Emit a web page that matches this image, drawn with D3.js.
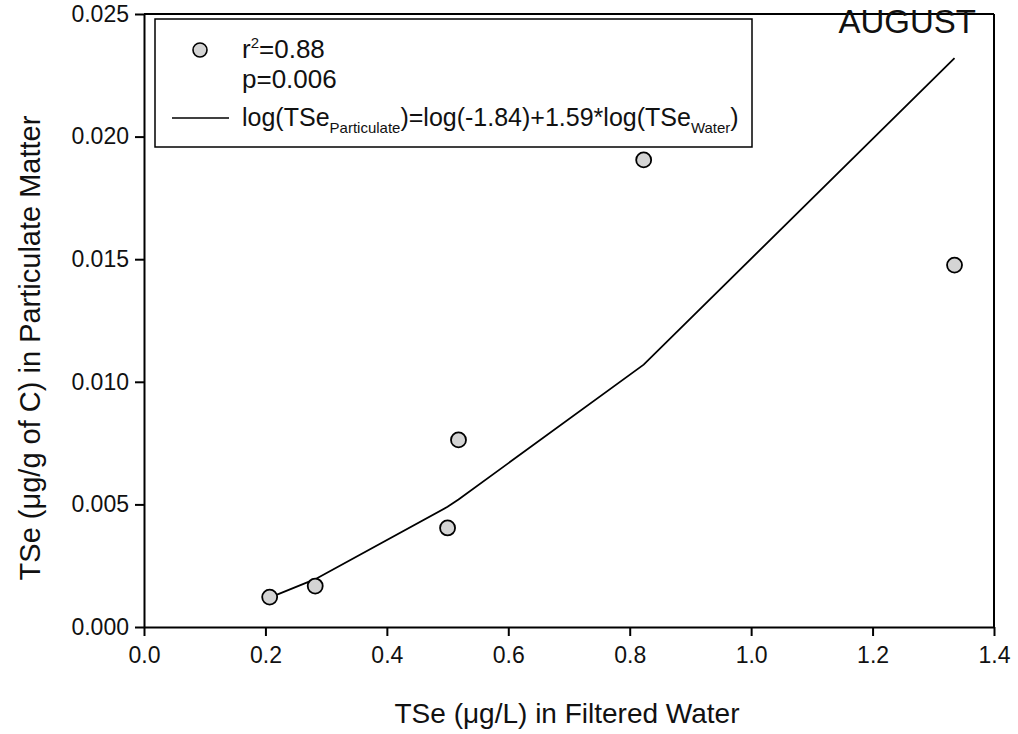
<!DOCTYPE html>
<html lang="en">
<head>
<meta charset="utf-8">
<title>TSe August</title>
<script src="https://d3js.org/d3.v7.min.js"></script>
<style>
  body { margin: 0; background: #fff; }
  text { font-family: "Liberation Sans", Arial, sans-serif; fill: #111; }
  .axis path, .axis line { stroke: #000; stroke-width: 2px; }
  .axis text { font-size: 23px; }
</style>
</head>
<body>
<div id="chart"></div>
<script>
    // data
    var waterTSe = [0.207, 0.282, 0.500, 0.518, 0.823, 1.335];
    var particulateTSe = [0.00122, 0.00167, 0.00404, 0.00763, 0.01905, 0.01476];
    var fitTSe = [0.00120, 0.00195, 0.00490, 0.00520, 0.01070, 0.02320];
    var xTicks = [0.0, 0.2, 0.4, 0.6, 0.8, 1.0, 1.2, 1.4];
    var yTicks = [0.000, 0.005, 0.010, 0.015, 0.020, 0.025];

    var width = 1018, height = 734;
    var svg = d3.select("#chart").append("svg")
        .attr("width", width)
        .attr("height", height);

    var x = d3.scaleLinear().domain([0, 1.4]).range([144, 994]);
    var y = d3.scaleLinear().domain([0, 0.025]).range([627, 14]);

    // frame top / right
    svg.append("line")
        .attr("x1", x(0)).attr("x2", x(1.4)).attr("y1", y(0.025)).attr("y2", y(0.025))
        .attr("stroke", "#000").attr("stroke-width", 2);
    svg.append("line")
        .attr("x1", x(1.4)).attr("x2", x(1.4)).attr("y1", y(0.025)).attr("y2", y(0))
        .attr("stroke", "#000").attr("stroke-width", 2);

    svg.append("g")
        .attr("class", "axis")
        .attr("transform", "translate(0," + y(0) + ")")
        .call(d3.axisBottom(x).tickValues(xTicks).tickFormat(d3.format(".1f"))
            .tickSizeOuter(0).tickSizeInner(9).tickPadding(11));

    svg.append("g")
        .attr("class", "axis")
        .attr("transform", "translate(" + x(0) + ",0)")
        .call(d3.axisLeft(y).tickValues(yTicks).tickFormat(d3.format(".3f"))
            .tickSizeOuter(0).tickSizeInner(9).tickPadding(6));

    // axis titles
    svg.append("text")
        .attr("x", 567)
        .attr("y", 723)
        .attr("text-anchor", "middle")
        .style("font-size", "28px")
        .text("TSe (\u03bcg/L) in Filtered Water");

    svg.append("text")
        .attr("transform", "translate(40,348) rotate(-90)")
        .attr("text-anchor", "middle")
        .style("font-size", "29px")
        .text("TSe (\u03bcg/g of C) in Particulate Matter");

    // fitted line
    var line = d3.line()
        .x(function(d, i) { return x(waterTSe[i]); })
        .y(function(d) { return y(d); });
    svg.append("path")
        .datum(fitTSe)
        .attr("d", line)
        .attr("fill", "none")
        .attr("stroke", "#000")
        .attr("stroke-width", 1.8);

    // points
    svg.append("g")
        .selectAll("circle")
        .data(waterTSe)
        .enter().append("circle")
        .attr("cx", function(d) { return x(d); })
        .attr("cy", function(d, i) { return y(particulateTSe[i]); })
        .attr("r", 7.5)
        .attr("fill", "#d4d4d4")
        .attr("stroke", "#000")
        .attr("stroke-width", 1.8);

    svg.append("text")
        .attr("x", 976)
        .attr("y", 33)
        .attr("text-anchor", "end")
        .style("font-size", "33px")
        .text("AUGUST");

    // legend
    var lg = svg.append("g");
    lg.append("rect")
        .attr("x", 155).attr("y", 19).attr("width", 597).attr("height", 128)
        .attr("fill", "#fff").attr("stroke", "#000").attr("stroke-width", 1.5);
    lg.append("circle")
        .attr("cx", 200).attr("cy", 50).attr("r", 7)
        .attr("fill", "#d4d4d4").attr("stroke", "#000").attr("stroke-width", 1.6);
    lg.append("line")
        .attr("x1", 172).attr("x2", 229).attr("y1", 118).attr("y2", 118)
        .attr("stroke", "#000").attr("stroke-width", 1.5);

    var t1 = lg.append("text").attr("x", 242).attr("y", 58).style("font-size", "26px");
    t1.append("tspan").text("r");
    t1.append("tspan").attr("dy", -10).style("font-size", "15px").text("2");
    t1.append("tspan").attr("dy", 10).text("=0.88");

    lg.append("text").attr("x", 242).attr("y", 88).style("font-size", "26px").text("p=0.006");

    var t3 = lg.append("text").attr("x", 242).attr("y", 126).style("font-size", "25px");
    t3.append("tspan").text("log(TSe");
    t3.append("tspan").attr("dy", 7).style("font-size", "15px").text("Particulate");
    t3.append("tspan").attr("dy", -7).text(")=log(-1.84)+1.59*log(TSe");
    t3.append("tspan").attr("dy", 7).style("font-size", "15px").text("Water");
    t3.append("tspan").attr("dy", -7).text(")");
</script>
</body>
</html>
